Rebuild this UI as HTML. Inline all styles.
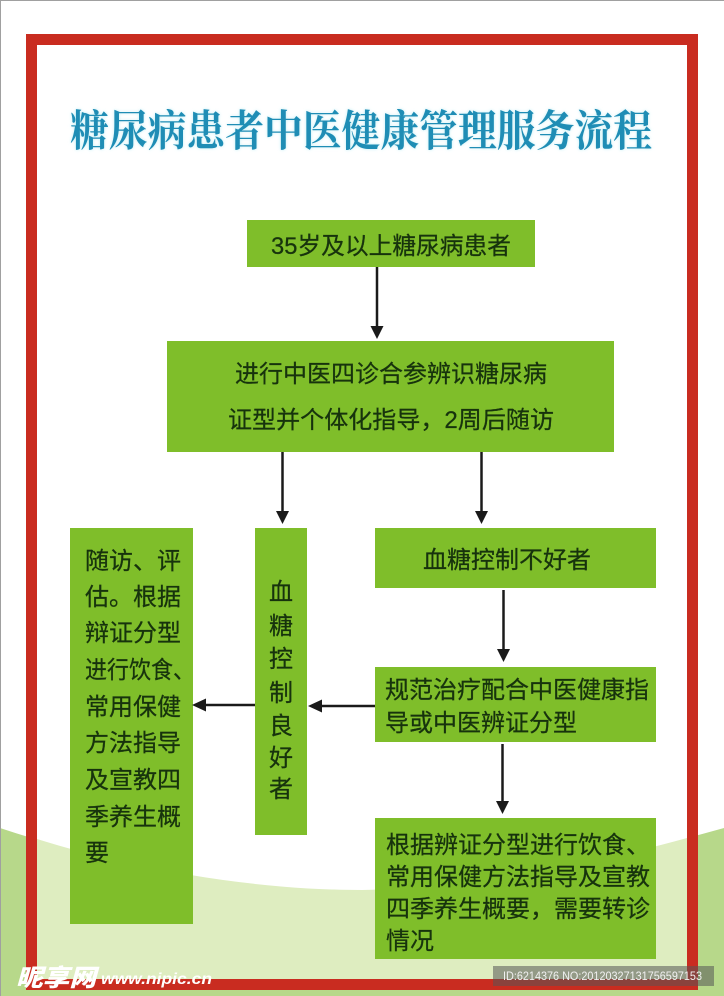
<!DOCTYPE html>
<html><head><meta charset="utf-8">
<style>
html,body{margin:0;padding:0;background:#fff}
svg{display:block}
text{font-family:"Liberation Sans","Noto Sans CJK SC","WenQuanYi Zen Hei",sans-serif;fill:#17330d;stroke:#17330d;stroke-width:.25px;font-size:24px}
</style></head>
<body>
<svg width="724" height="996" viewBox="0 0 724 996" xmlns="http://www.w3.org/2000/svg">
<defs><filter id="b" x="-5%" y="-20%" width="110%" height="140%"><feGaussianBlur stdDeviation="1.6"/></filter></defs>
<rect width="724" height="996" fill="#fff"/>
<path d="M0 828 C120 868 250 890 362 890 C480 888 610 860 724 828 V996 H0Z" fill="#b7d88a"/>
<rect x="37" y="45" width="650" height="934" fill="#fff"/>
<path d="M37 839 C130 868 250 890 362 890 C480 888 600 862 687 838 V979 H37Z" fill="#deedc0"/>
<rect x="31.500" y="39.500" width="661" height="945" fill="none" stroke="#c92c20" stroke-width="11"/>
<path d="M0.500 996V0.500H724" fill="none" stroke="#a0a0a0"/>

<g text-anchor="start">
<text x="70" y="146" textLength="582" lengthAdjust="spacingAndGlyphs" style="font-family:'Noto Serif CJK SC','Liberation Serif',serif;font-weight:700;font-size:43px;fill:#bfeef5;stroke:none" filter="url(#b)">糖尿病患者中医健康管理服务流程</text>
<text x="70" y="146" textLength="582" lengthAdjust="spacingAndGlyphs" style="font-family:'Noto Serif CJK SC','Liberation Serif',serif;font-weight:700;font-size:43px;fill:#1f8db5;stroke:none">糖尿病患者中医健康管理服务流程</text>
</g>

<g fill="#7fbe2a">
<rect x="247" y="220" width="288" height="47"/>
<rect x="167" y="341" width="447" height="111"/>
<rect x="70" y="528" width="123" height="396"/>
<rect x="255" y="528" width="52" height="307"/>
<rect x="375" y="528" width="281" height="60"/>
<rect x="375" y="667" width="281" height="75"/>
<rect x="375" y="818" width="281" height="141"/>
</g>

<g stroke="#1a1a1a" stroke-width="2.500" fill="none">
<path d="M377 267V327"/><path d="M282.500 452V512"/><path d="M481.500 452V512"/>
<path d="M503.500 590V650"/><path d="M502.500 744V802"/>
<path d="M375 706H320"/><path d="M255 705H204"/>
</g>
<g fill="#1a1a1a">
<path d="M370.500 326H383.500L377 339Z"/>
<path d="M276 511H289L282.500 524Z"/>
<path d="M475 511H488L481.500 524Z"/>
<path d="M497 649H510L503.500 662Z"/>
<path d="M496 801H509L502.500 814Z"/>
<path d="M322 699.500V712.500L308 706Z"/>
<path d="M206 698.500V711.500L192 705Z"/>
</g>

<text x="271" y="254" textLength="240" lengthAdjust="spacingAndGlyphs">35岁及以上糖尿病患者</text>
<text x="235" y="382" textLength="312" lengthAdjust="spacingAndGlyphs">进行中医四诊合参辨识糖尿病</text>
<text x="228" y="428" textLength="326" lengthAdjust="spacingAndGlyphs">证型并个体化指导，2周后随访</text>

<text x="85" y="569" textLength="96" lengthAdjust="spacingAndGlyphs">随访、评</text>
<text x="85" y="605" textLength="96" lengthAdjust="spacingAndGlyphs">估。根据</text>
<text x="85" y="641" textLength="96" lengthAdjust="spacingAndGlyphs">辩证分型</text>
<text x="85" y="678" textLength="110" lengthAdjust="spacingAndGlyphs">进行饮食、</text>
<text x="85" y="715" textLength="96" lengthAdjust="spacingAndGlyphs">常用保健</text>
<text x="85" y="751" textLength="96" lengthAdjust="spacingAndGlyphs">方法指导</text>
<text x="85" y="788" textLength="96" lengthAdjust="spacingAndGlyphs">及宣教四</text>
<text x="85" y="825" textLength="96" lengthAdjust="spacingAndGlyphs">季养生概</text>
<text x="85" y="861">要</text>

<g text-anchor="middle">
<text x="281" y="600">血</text>
<text x="281" y="634">糖</text>
<text x="281" y="667">控</text>
<text x="281" y="701">制</text>
<text x="281" y="734">良</text>
<text x="281" y="766">好</text>
<text x="281" y="797">者</text>
</g>

<text x="423" y="568" textLength="168" lengthAdjust="spacingAndGlyphs">血糖控制不好者</text>
<text x="385" y="698" textLength="264" lengthAdjust="spacingAndGlyphs">规范治疗配合中医健康指</text>
<text x="385" y="731" textLength="192" lengthAdjust="spacingAndGlyphs">导或中医辨证分型</text>
<text x="386" y="853" textLength="264" lengthAdjust="spacingAndGlyphs">根据辨证分型进行饮食、</text>
<text x="386" y="885" textLength="264" lengthAdjust="spacingAndGlyphs">常用保健方法指导及宣教</text>
<text x="386" y="917" textLength="264" lengthAdjust="spacingAndGlyphs">四季养生概要，需要转诊</text>
<text x="386" y="949" textLength="48" lengthAdjust="spacingAndGlyphs">情况</text>

<text x="16" y="986" style="font-size:24px;font-weight:900;font-style:italic;fill:#fff;stroke:none" textLength="80" lengthAdjust="spacingAndGlyphs">昵享网</text>
<text x="101" y="984" style="font-size:16px;font-weight:700;font-style:italic;fill:#fff;stroke:none" textLength="111" lengthAdjust="spacingAndGlyphs">www.nipic.cn</text>
<rect x="493" y="966" width="221" height="20" fill="#555" fill-opacity=".55"/>
<text x="503" y="980" style="font-size:11.500px;fill:#f0f0f0;stroke:none" textLength="199" lengthAdjust="spacingAndGlyphs">ID:6214376 NO:20120327131756597153</text>
</svg>
</body></html>
